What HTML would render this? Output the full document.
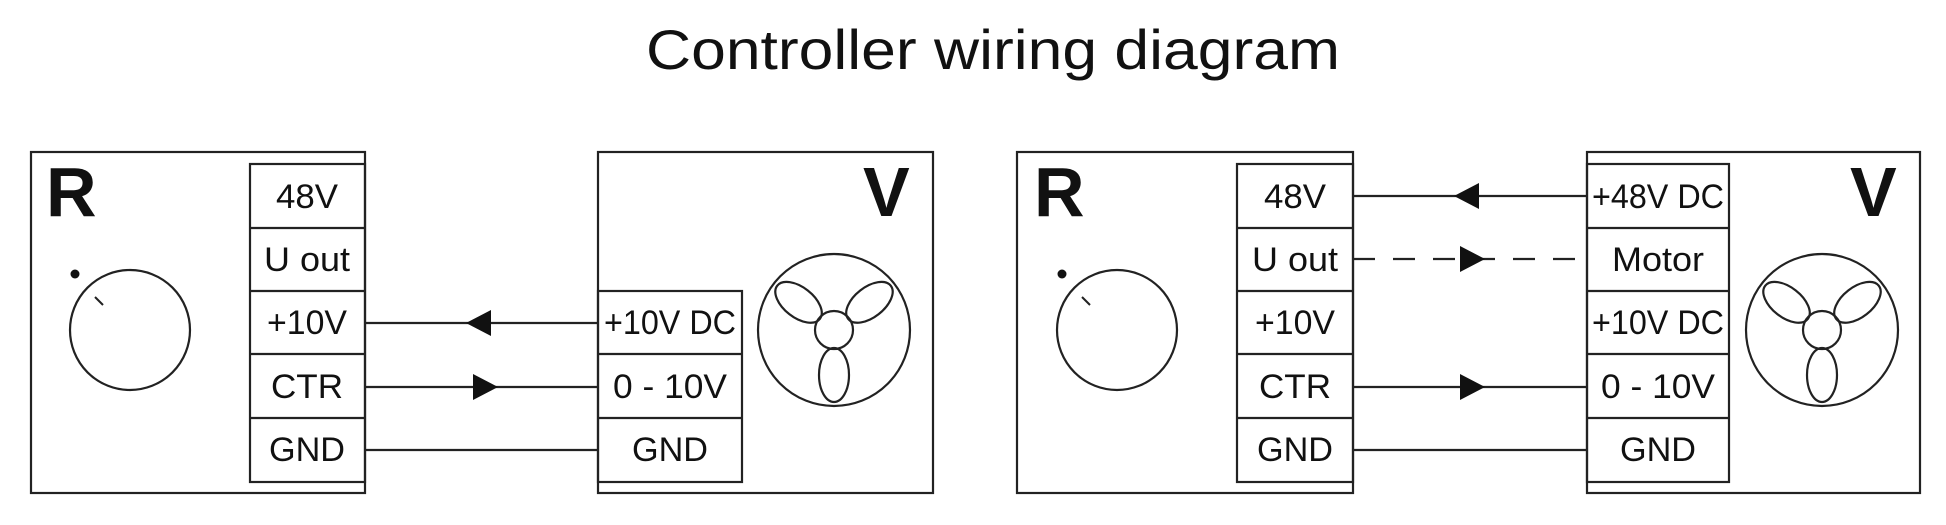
<!DOCTYPE html>
<html><head><meta charset="utf-8"><style>
html,body{margin:0;padding:0;background:#fff;}
svg{display:block;}
text{font-family:"Liberation Sans",Arial,sans-serif;fill:#111;}
</style></head><body>
<svg width="1946" height="525" viewBox="0 0 1946 525" xmlns="http://www.w3.org/2000/svg">
<text x="993" y="69" font-size="56" text-anchor="middle" textLength="694" lengthAdjust="spacingAndGlyphs" fill="#111">Controller wiring diagram</text>
<defs>
<g id="fan" fill="none" stroke="#222" stroke-width="2.2">
  <circle cx="0" cy="0" r="76"/>
  <circle cx="0" cy="0" r="19"/>
  <ellipse cx="0" cy="45" rx="15" ry="27"/>
  <ellipse cx="0" cy="45" rx="15" ry="27" transform="rotate(128)"/>
  <ellipse cx="0" cy="45" rx="15" ry="27" transform="rotate(232)"/>
</g>
<g id="knob">
  <circle cx="0" cy="0" r="60" fill="none" stroke="#222" stroke-width="2.2"/>
  <circle cx="-55" cy="-56" r="4.5" fill="#111"/>
  <line x1="-35" y1="-33" x2="-27" y2="-25" stroke="#222" stroke-width="2"/>
</g>
</defs>
<g stroke="#222" stroke-width="2.2" fill="none">
  <rect x="31" y="152" width="334" height="341"/>
  <rect x="250" y="164" width="115" height="318"/>
  <line x1="250" y1="228" x2="365" y2="228"/><line x1="250" y1="291" x2="365" y2="291"/>
  <line x1="250" y1="354" x2="365" y2="354"/><line x1="250" y1="418" x2="365" y2="418"/>
  <rect x="598" y="152" width="335" height="341"/>
  <rect x="598" y="291" width="144" height="191"/>
  <line x1="598" y1="354" x2="742" y2="354"/><line x1="598" y1="418" x2="742" y2="418"/>
  <line x1="365" y1="323" x2="598" y2="323"/>
  <line x1="365" y1="387" x2="598" y2="387"/>
  <line x1="365" y1="450" x2="598" y2="450"/>
  <rect x="1017" y="152" width="336" height="341"/>
  <rect x="1237" y="164" width="116" height="318"/>
  <line x1="1237" y1="228" x2="1353" y2="228"/><line x1="1237" y1="291" x2="1353" y2="291"/>
  <line x1="1237" y1="354" x2="1353" y2="354"/><line x1="1237" y1="418" x2="1353" y2="418"/>
  <rect x="1587" y="152" width="333" height="341"/>
  <rect x="1587" y="164" width="142" height="318"/>
  <line x1="1587" y1="228" x2="1729" y2="228"/><line x1="1587" y1="291" x2="1729" y2="291"/>
  <line x1="1587" y1="354" x2="1729" y2="354"/><line x1="1587" y1="418" x2="1729" y2="418"/>
  <line x1="1353" y1="196" x2="1587" y2="196"/>
  <line x1="1353" y1="259" x2="1587" y2="259" stroke-dasharray="22,18"/>
  <line x1="1353" y1="387" x2="1587" y2="387"/>
  <line x1="1353" y1="450" x2="1587" y2="450"/>
</g>
<g fill="#111">
  <polygon points="466,323 491,310 491,336"/>
  <polygon points="498,387 473,374 473,400"/>
  <polygon points="1454,196 1479,183 1479,209"/>
  <polygon points="1485,259 1460,246 1460,272"/>
  <polygon points="1485,387 1460,374 1460,400"/>
</g>
<use href="#knob" x="130" y="330"/>
<use href="#knob" x="1117" y="330"/>
<use href="#fan" x="834" y="330"/>
<use href="#fan" x="1822" y="330"/>
<g font-size="70" font-weight="bold">
  <text x="46" y="216">R</text>
  <text x="863" y="216">V</text>
  <text x="1034" y="216">R</text>
  <text x="1850" y="216">V</text>
</g>
<g font-size="34" text-anchor="middle">
  <text x="307" y="208" textLength="62" lengthAdjust="spacingAndGlyphs">48V</text>
  <text x="307" y="271" textLength="86" lengthAdjust="spacingAndGlyphs">U out</text>
  <text x="307" y="334" textLength="80" lengthAdjust="spacingAndGlyphs">+10V</text>
  <text x="307" y="398" textLength="72" lengthAdjust="spacingAndGlyphs">CTR</text>
  <text x="307" y="461" textLength="76" lengthAdjust="spacingAndGlyphs">GND</text>
  <text x="670" y="334" textLength="132" lengthAdjust="spacingAndGlyphs">+10V DC</text>
  <text x="670" y="398" textLength="114" lengthAdjust="spacingAndGlyphs">0 - 10V</text>
  <text x="670" y="461" textLength="76" lengthAdjust="spacingAndGlyphs">GND</text>
  <text x="1295" y="208" textLength="62" lengthAdjust="spacingAndGlyphs">48V</text>
  <text x="1295" y="271" textLength="86" lengthAdjust="spacingAndGlyphs">U out</text>
  <text x="1295" y="334" textLength="80" lengthAdjust="spacingAndGlyphs">+10V</text>
  <text x="1295" y="398" textLength="72" lengthAdjust="spacingAndGlyphs">CTR</text>
  <text x="1295" y="461" textLength="76" lengthAdjust="spacingAndGlyphs">GND</text>
  <text x="1658" y="208" textLength="132" lengthAdjust="spacingAndGlyphs">+48V DC</text>
  <text x="1658" y="271" textLength="92" lengthAdjust="spacingAndGlyphs">Motor</text>
  <text x="1658" y="334" textLength="132" lengthAdjust="spacingAndGlyphs">+10V DC</text>
  <text x="1658" y="398" textLength="114" lengthAdjust="spacingAndGlyphs">0 - 10V</text>
  <text x="1658" y="461" textLength="76" lengthAdjust="spacingAndGlyphs">GND</text>
</g>
</svg>
</body></html>
